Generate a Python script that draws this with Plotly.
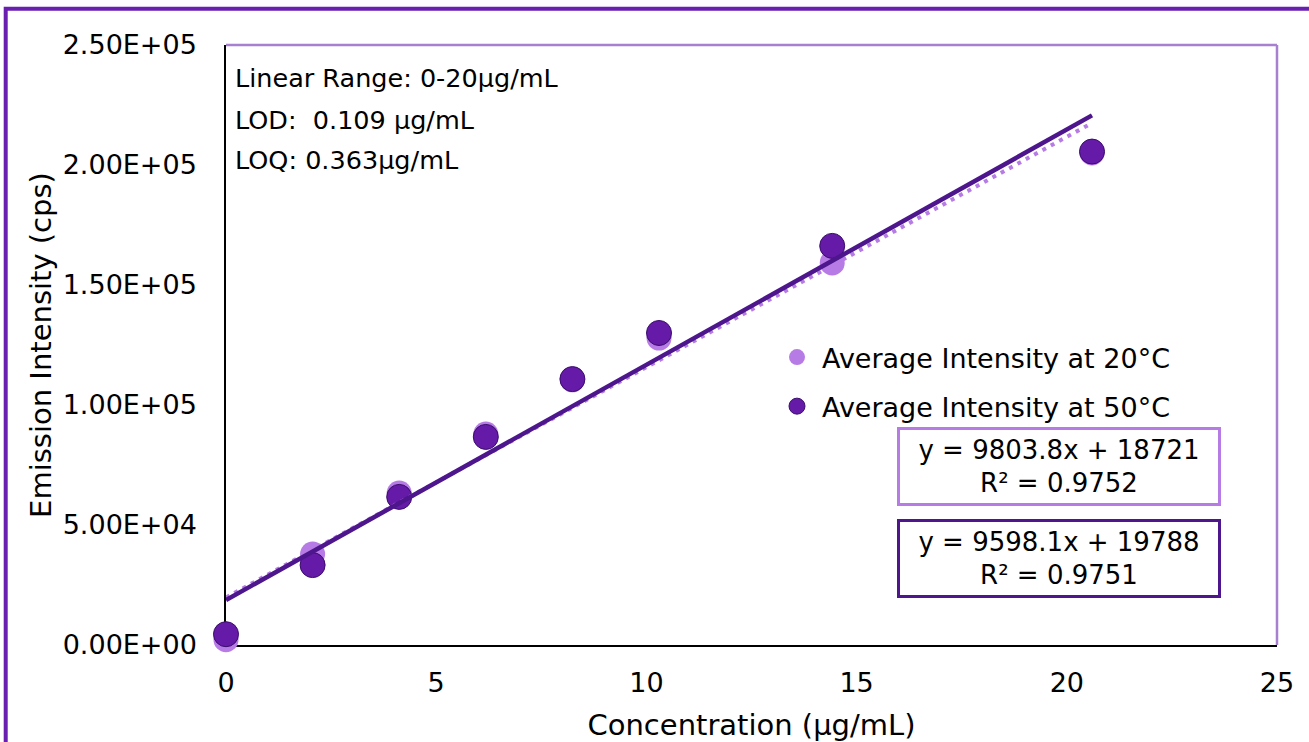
import plotly.graph_objects as go

# ---- data ----
conc = [0, 2.06, 4.12, 6.18, 8.24, 10.3, 14.42, 20.6]
intensity_20C = [2200, 37900, 63300, 87900, 110500, 127900, 159200, 205000]
intensity_50C = [4500, 33300, 61700, 86700, 110800, 130000, 166300, 205600]

# trendline equations (as printed on the chart)
fit_a = {"slope": 9803.8, "intercept": 18721, "r2": 0.9752}
fit_b = {"slope": 9598.1, "intercept": 19788, "r2": 0.9751}
trend_x = [0, 20.6]

x_ticks = [0, 5, 10, 15, 20, 25]
y_ticks = [0, 50000, 100000, 150000, 200000, 250000]
y_ticktext = ["0.00E+00", "5.00E+04", "1.00E+05", "1.50E+05", "2.00E+05", "2.50E+05"]

info_lines = ["Linear Range: 0-20\u03bcg/mL", "LOD:\u00a0 0.109 \u03bcg/mL", "LOQ: 0.363\u03bcg/mL"]

# ---- style ----
FONT = "DejaVu Sans"
LIGHT = "#b77be6"
DARK = "#651aa8"
DARK_EDGE = "#3a0d6b"
DARK_LINE = "#4d168c"
FRAME = "#6a1fb0"
PLOT_BORDER = "#a880d0"

W, H = 1309, 742
L, R, T, B = 226, 32, 45, 97
PW, PH = W - L - R, H - T - B


def px_x(p):
    return (p - L) / PW


def px_y(p):
    return (H - B - p) / PH


fig = go.Figure()

fig.add_trace(go.Scatter(
    x=conc, y=intensity_20C, mode="markers", name="Average Intensity at 20\u00b0C",
    legendgroup="a", cliponaxis=False,
    marker=dict(size=25, color=LIGHT, line=dict(width=0)),
))
fig.add_trace(go.Scatter(
    x=conc, y=intensity_50C, mode="markers", name="Average Intensity at 50\u00b0C",
    legendgroup="b", cliponaxis=False,
    marker=dict(size=25, color=DARK, line=dict(width=1, color=DARK_EDGE)),
))

trend_b = [fit_b["slope"] * x + fit_b["intercept"] for x in trend_x]
trend_a = [fit_a["slope"] * x + fit_a["intercept"] for x in trend_x]
fig.add_trace(go.Scatter(
    x=trend_x, y=trend_b, mode="lines", showlegend=False, hoverinfo="skip",
    line=dict(color=LIGHT, width=4, dash="4px,5.5px"),
))
fig.add_trace(go.Scatter(
    x=trend_x, y=trend_a, mode="lines", showlegend=False, hoverinfo="skip",
    line=dict(color=DARK_LINE, width=4.5),
))

fig.update_layout(
    width=W, height=H,
    margin=dict(l=L, r=R, t=T, b=B, autoexpand=False),
    paper_bgcolor="white", plot_bgcolor="white",
    font=dict(family=FONT, size=27, color="#000000"),
    showlegend=True,
    legend=dict(
        x=px_x(772), y=px_y(333), xanchor="left", yanchor="top",
        bgcolor="rgba(0,0,0,0)", borderwidth=0,
        font=dict(family=FONT, size=27, color="#000000"),
        traceorder="grouped", tracegroupgap=11,
        itemwidth=40,
    ),
    xaxis=dict(
        range=[0, 25], tickvals=x_ticks, showgrid=False, zeroline=False,
        showline=True, linecolor="#000000", linewidth=1.5, ticks="",
        layer="below traces",
        ticklabelstandoff=13, tickfont=dict(family=FONT, size=27),
        title=dict(text="Concentration (\u03bcg/mL)", font=dict(family=FONT, size=29), standoff=18),
    ),
    yaxis=dict(
        range=[0, 250000], tickvals=y_ticks, ticktext=y_ticktext, showgrid=False,
        zeroline=False, showline=True, linecolor="#000000", linewidth=1.5, ticks="",
        layer="below traces",
        ticklabelstandoff=22, tickfont=dict(family=FONT, size=27),
        title=dict(text="Emission Intensity (cps)", font=dict(family=FONT, size=29), standoff=3),
    ),
)

shapes = [
    # plot area top & right border (light purple)
    dict(type="line", xref="paper", yref="paper", x0=0, x1=1, y0=1, y1=1,
         line=dict(color=PLOT_BORDER, width=2.5)),
    dict(type="line", xref="paper", yref="paper", x0=1, x1=1, y0=0, y1=1,
         line=dict(color=PLOT_BORDER, width=2.5)),
    # outer frame
    dict(type="rect", xref="paper", yref="paper",
         x0=px_x(5.7), x1=px_x(1330), y0=px_y(760), y1=px_y(8.7),
         line=dict(color=FRAME, width=4), fillcolor="rgba(0,0,0,0)", layer="above"),
]
fig.update_layout(shapes=shapes)

annotations = []
for txt, yc in zip(info_lines, [78, 120, 160]):
    annotations.append(dict(
        text=txt, xref="paper", yref="paper", x=px_x(233), y=px_y(yc),
        xanchor="left", yanchor="middle", showarrow=False,
        font=dict(family=FONT, size=25.5, color="#000000"),
    ))

for fit, border, yc in [(fit_a, LIGHT, 466), (fit_b, DARK_LINE, 558)]:
    annotations.append(dict(
        text=f"y = {fit['slope']}x + {fit['intercept']}<br>R\u00b2 = {fit['r2']}",
        xref="paper", yref="paper", x=px_x(1059), y=px_y(yc),
        xanchor="center", yanchor="middle", showarrow=False, align="center",
        width=316, height=71, borderpad=1, borderwidth=3, bordercolor=border,
        bgcolor="white",
        font=dict(family=FONT, size=26, color="#000000"),
    ))
fig.update_layout(annotations=annotations)

fig.write_html(
    "out.html",
    config={"displayModeBar": False},
    post_script="document.body.style.margin='0px';document.body.style.overflow='hidden';",
)
